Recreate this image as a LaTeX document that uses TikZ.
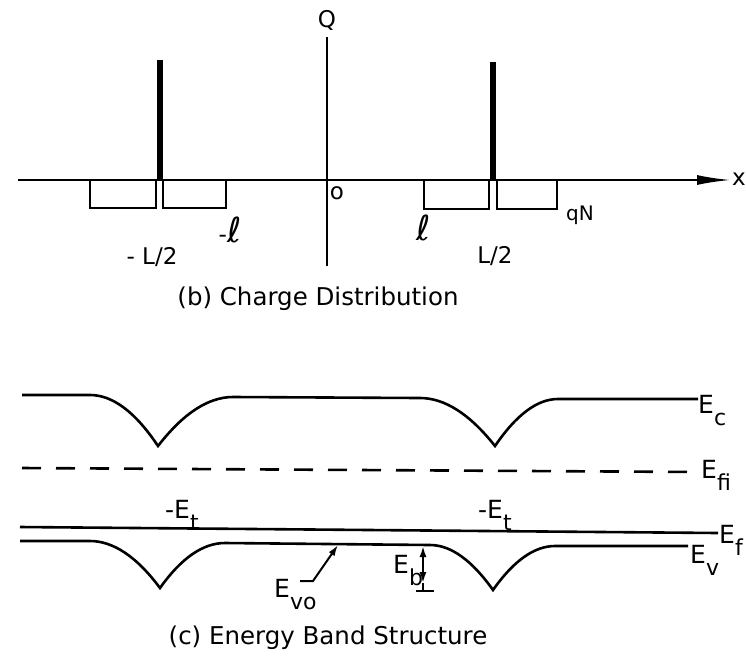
\documentclass[tikz,border=0pt]{standalone}
\usepackage{fontspec}
\usepackage{graphicx}
\setmainfont{DejaVu Sans}
\usetikzlibrary{arrows.meta}
\newcommand{\lsub}[1]{\raisebox{-0.5em}{\fontsize{22}{22}\selectfont #1}}
\newcommand{\myell}{\scalebox{1.5}{ℓ}}
\begin{document}
\begin{tikzpicture}[x=1pt,y=-1pt,
  axis/.style={line width=2.3pt},
  boxline/.style={line width=2.2pt},
  band/.style={line width=2.6pt},
  spike/.style={line width=5.5pt},
  lbl/.style={font=\fontsize{23}{25}\selectfont, inner sep=0pt},
  elbl/.style={font=\fontsize{25}{27}\selectfont, inner sep=0pt},
  captxt/.style={font=\fontsize{24.5}{27}\selectfont, inner sep=0pt}]
\useasboundingbox (0,0) rectangle (746,659);

% ---------- (b) charge distribution ----------
\coordinate (xs) at (18,180);
\coordinate (xe) at (731,180);
\draw[axis,-{Latex[length=34pt,width=10pt]}] (xs) -- (xe);
\coordinate (qs) at (327,266);
\coordinate (qe) at (327,37);
\draw[axis] (qs) -- (qe);

\draw[spike] (160,60) -- (160,180);
\draw[spike] (493,62) -- (493,180);

\draw[boxline] (90,180) -- (90,208) -- (156,208) -- (156,180);
\draw[boxline] (163,180) -- (163,208) -- (226,208) -- (226,180);
\draw[boxline] (424,180) -- (424,209) -- (489,209) -- (489,180);
\draw[boxline] (497,180) -- (497,209) -- (557,209) -- (557,180);

\node[lbl] (Q) at (327,20) {Q};
\node[lbl] (xl) at (739,179) {x};
\node[lbl] (o) at (337,193) {o};
\node[lbl] (ml) at (230,230) {-\myell};
\node[lbl] (pl) at (424,228) {\myell};
\node[lbl] (mL) at (152,257) {- L/2};
\node[lbl] (pL) at (495,256) {L/2};
\node[lbl, font=\fontsize{20}{22}\selectfont] (qN) at (580,215) {qN};
\node[captxt] (capb) at (318,299) {(b) Charge Distribution};

% ---------- (c) energy band structure ----------
\draw[band] (22,395) -- (90,395)
  .. controls (112.7,395) and (135.3,412) .. (158,446)
  .. controls (183.3,413.3) and (208.3,397) .. (233,397) -- (420,398)
  .. controls (444.7,398) and (469.7,414) .. (495,446)
  .. controls (516.3,414.7) and (537.3,399) .. (558,399) -- (698,399);
\draw[band, dash pattern=on 19pt off 15pt] (22,468) -- (698,472);
\draw[band] (20,527) -- (718,533);
\draw[band] (20,541) -- (90,541)
  .. controls (113.3,541) and (136.7,556.7) .. (160,588)
  .. controls (181.3,558) and (203,543) .. (225,543) -- (430,545)
  .. controls (450.7,545) and (471.7,560) .. (493,590)
  .. controls (513.7,560.7) and (534.3,546) .. (555,546) -- (688,546);

\node[elbl, anchor=base west] (Ec) at (698,413) {E\lsub{c}};
\node[elbl, anchor=base west] (Efi) at (701,478) {E\lsub{fi}};
\node[elbl, anchor=base west] (Ef) at (719,543) {E\lsub{f}};
\node[elbl, anchor=base west] (Ev) at (690,563) {E\lsub{v}};
\node[elbl, anchor=base west] (Et1) at (165,518) {-E\lsub{t}};
\node[elbl, anchor=base west] (Et2) at (478,518) {-E\lsub{t}};
\node[elbl, anchor=base west] (Evo) at (274,597) {E\lsub{vo}};
\node[elbl, anchor=base west] (Eb) at (393,573) {E\lsub{b}};

\coordinate (vo1) at (300,581);
\coordinate (vo2) at (313,581);
\coordinate (vo3) at (338,545);
\draw[line width=2pt,-{Latex[length=11pt,width=7pt]}] (vo1) -- (vo2) -- (vo3);

\coordinate (ebt) at (423,546);
\coordinate (ebm) at (423,583);
\coordinate (ebb) at (423,591);
\draw[line width=2pt,{Latex[length=11pt,width=7pt]}-{Latex[length=11pt,width=7pt]}] (ebt) -- (ebm);
\draw[line width=2pt] (ebm) -- (ebb);
\draw[line width=2.4pt] (416,591) -- (434,591);

\node[captxt] (capc) at (328,638) {(c) Energy Band Structure};
\end{tikzpicture}
\end{document}
